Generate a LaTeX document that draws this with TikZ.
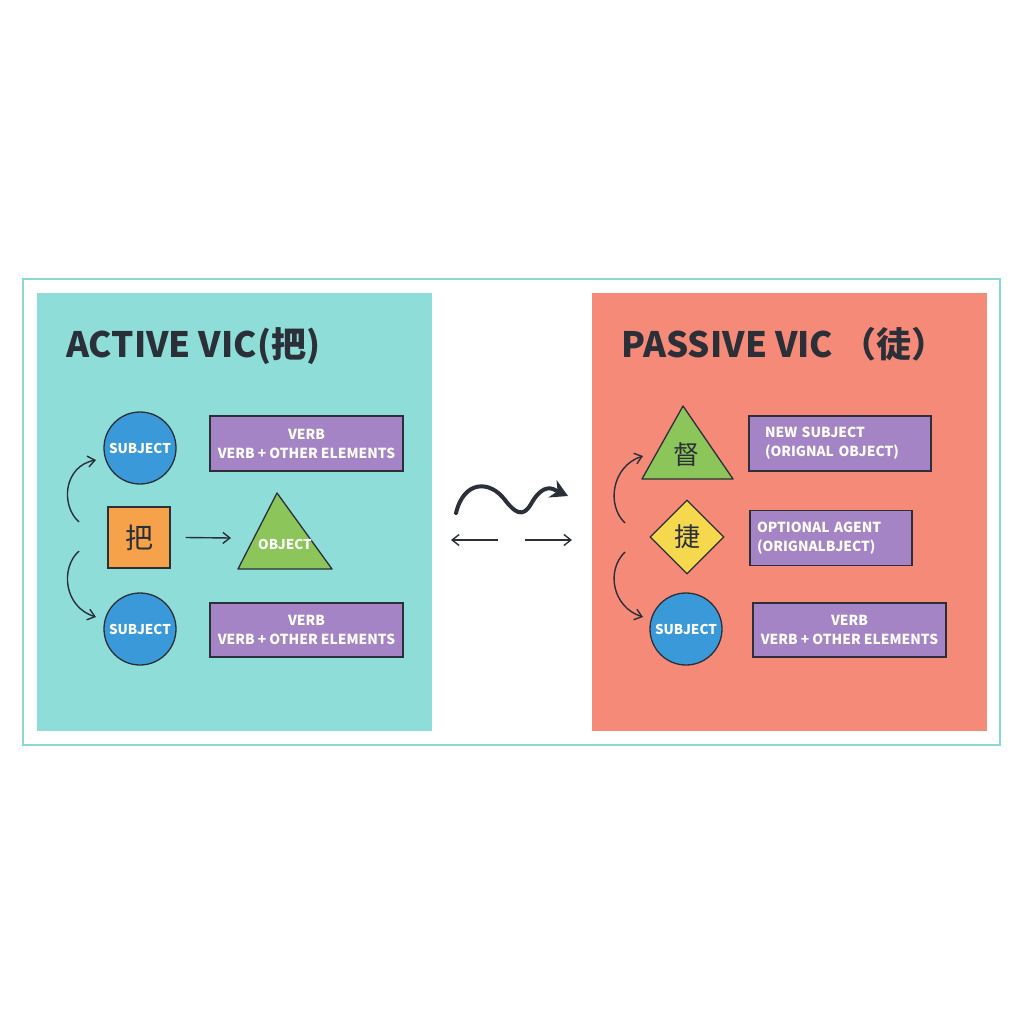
\documentclass[tikz,border=0pt]{standalone}
\usepackage{fontspec}
\setmainfont{Noto Sans CJK SC}
\usetikzlibrary{shapes.geometric,arrows.meta}
\definecolor{tealp}{RGB}{142,221,216}
\definecolor{framec}{RGB}{140,216,210}
\definecolor{salmon}{RGB}{245,138,120}
\definecolor{purp}{RGB}{165,132,198}
\definecolor{blu}{RGB}{58,154,217}
\definecolor{orng}{RGB}{245,162,75}
\definecolor{grn}{RGB}{140,198,90}
\definecolor{yel}{RGB}{245,216,78}
\definecolor{dark}{RGB}{43,47,56}
\tikzset{
  panel/.style={draw=none, inner sep=0pt, minimum width=395pt, minimum height=438pt},
  circ/.style={circle, fill=blu, draw=dark, line width=1.3pt, minimum size=72pt, inner sep=0pt,
     text=white, font=\fontsize{13.5}{16}\selectfont\bfseries},
  vbox/.style={rectangle, fill=purp, draw=dark, line width=1.3pt, inner sep=0pt, minimum height=55pt,
     text=white, align=center, font=\fontsize{13.8}{19}\selectfont\bfseries},
  sq/.style={rectangle, fill=orng, draw=dark, line width=1.2pt, minimum width=62pt, minimum height=61pt, inner sep=0pt,
     text=dark, font=\fontsize{28}{30}\selectfont},
  shp/.style={draw=dark, line width=1.3pt, line join=round},
  arr/.style={draw=dark, line width=1.4pt, -{Straight Barb[length=7pt,width=11pt]}},
  title/.style={anchor=base west, text=dark, inner sep=0pt, font=\fontsize{35}{40}\selectfont\bfseries},
}
\begin{document}
\begin{tikzpicture}[x=1pt,y=-1pt]
\useasboundingbox (0,0) rectangle (1024,1024);
\fill[white] (0,0) rectangle (1024,1024);
\draw[framec, line width=2.2pt] (23,279) rectangle (1000,745);
% panels
\node[panel, fill=tealp] (lp) at (234.5,512) {};
\node[panel, fill=salmon] (rp) at (789.5,512) {};
% titles
\node[title] (lt) at (66,357) {ACTIVE VIC(把)};
\node[title] (rt) at (621,357) {PASSIVE VIC （徒）};
% left panel
\node[circ] (s1) at (140,448) {SUBJECT};
\node[circ] (s2) at (140,629) {SUBJECT};
\node[vbox, minimum width=193pt] (v1) at (306.5,443.5) {VERB\\VERB + OTHER ELEMENTS};
\node[vbox, minimum width=193pt, minimum height=54pt] (v2) at (306.5,630) {VERB\\VERB + OTHER ELEMENTS};
\node[sq] (ba) at (139,537.5) {把};
\fill[grn] (277,493) -- (332,569) -- (238,569) -- cycle;
\draw[shp] (277,493) -- (332,569) -- (238,569) -- cycle;
\node[text=white, font=\fontsize{13.5}{16}\selectfont\bfseries, inner sep=0pt] (obj) at (285,544) {OBJECT};
\coordinate (objL) at (231,538);
\draw[arr] ([xshift=15pt]ba.east) -- (objL);
\coordinate (la1) at (79,522);
\coordinate (la2) at (96,460);
\coordinate (lb1) at (79,551);
\coordinate (lb2) at (96,617);
\draw[arr] (la1) .. controls (60,505) and (64,466) .. (la2);
\draw[arr] (lb1) .. controls (60,568) and (64,607) .. (lb2);
% middle
\coordinate (w1) at (456,513);
\coordinate (w2) at (553,489);
\draw[dark, line width=4pt, line cap=round, -{Stealth[length=17pt,width=19pt]}]
  (w1) .. controls (464,480) and (490,480) .. (505,500)
       .. controls (515,513) and (523,518) .. (531,504)
       .. controls (537,493) and (545,486) .. (w2) -- (568,496);
\coordinate (m1) at (498,540);
\coordinate (m2) at (451,540);
\coordinate (m3) at (525,540);
\coordinate (m4) at (572,540);
\draw[arr] (m1) -- (m2);
\draw[arr] (m3) -- (m4);
% right panel
\fill[grn] (683,406) -- (733,479) -- (642,479) -- cycle;
\draw[shp] (683,406) -- (733,479) -- (642,479) -- cycle;
\node[text=dark, font=\fontsize{26}{28}\selectfont, inner sep=0pt] (du) at (686,455) {督};
\node[vbox, minimum width=182pt, align=left, text width=150pt] (v3) at (840,443.5) {NEW SUBJECT\\(ORIGNAL OBJECT)};
\node[diamond, fill=yel, draw=dark, line width=1.3pt, minimum width=74pt, minimum height=74pt, inner sep=0pt,
      text=dark, font=\fontsize{26}{28}\selectfont] (ji) at (687,537) {捷};
\node[vbox, minimum width=162pt, align=left, text width=148pt] (v4) at (831,538) {OPTIONAL AGENT\\(ORIGNALBJECT)};
\node[circ] (s3) at (686,629) {SUBJECT};
\node[vbox, minimum width=193pt, minimum height=54pt] (v5) at (849.5,630) {VERB\\VERB + OTHER ELEMENTS};
\coordinate (ra1) at (625,523);
\coordinate (ra2) at (643,456);
\coordinate (rb1) at (625,552);
\coordinate (rb2) at (643,617);
\draw[arr] (ra1) .. controls (606,505) and (612,466) .. (ra2);
\draw[arr] (rb1) .. controls (606,570) and (612,607) .. (rb2);
\end{tikzpicture}
\end{document}
